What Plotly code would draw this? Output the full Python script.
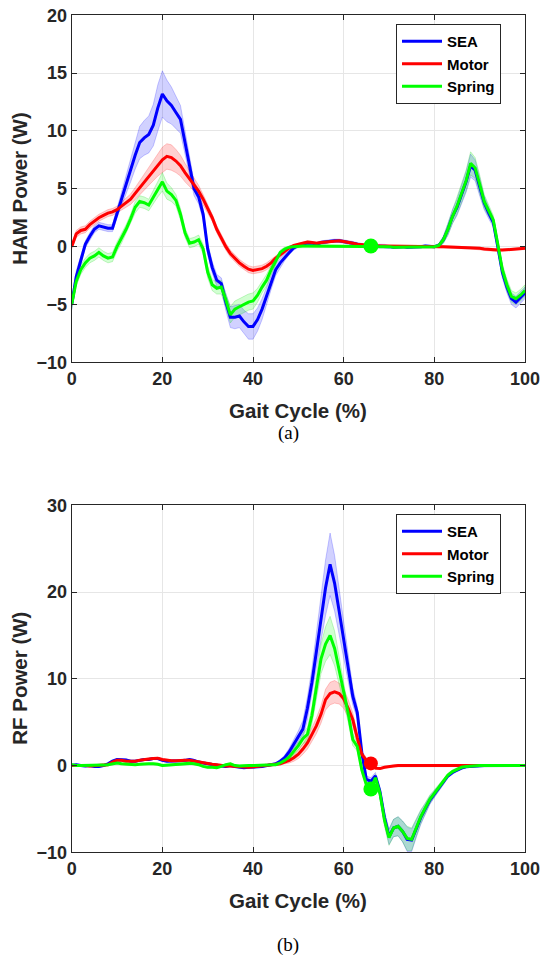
import numpy as np
import plotly.graph_objects as go

# ---------------- data ----------------
gait = list(range(101))
x_ticks = [0, 20, 40, 60, 80, 100]
ham_y_ticks = [-10, -5, 0, 5, 10, 15, 20]
rf_y_ticks = [-10, 0, 10, 20, 30]
series_names = ["SEA", "Motor", "Spring"]

ham_sea = [
    -5.0, -2.6, -1.2, 0.2, 0.9, 1.5, 1.8, 1.7, 1.6, 1.6,
    2.9, 4.2, 5.4, 6.6, 7.9, 9.0, 9.4, 9.7, 10.5, 12.0,
    13.2, 12.6, 12.2, 11.6, 11.0, 9.0, 7.0, 5.0, 4.3, 2.8,
    -0.2, -1.8, -2.9, -3.2, -4.8, -6.1, -6.1, -6.0, -6.5, -6.9,
    -6.9, -6.3, -5.4, -4.3, -3.1, -2.0, -1.4, -0.9, -0.5, -0.1,
    0.1, 0.2, 0.3, 0.3, 0.2, 0.35, 0.4, 0.5, 0.5, 0.5,
    0.45, 0.4, 0.3, 0.2, 0.1, 0.05, 0.05, 0.05, 0.0, 0.05,
    0.0, -0.05, 0.0, 0.0, -0.05, -0.05, 0.0, 0.0, 0.05, 0.0,
    0.0, 0.1, 0.6, 1.5, 2.6, 3.4, 4.5, 5.6, 7.0, 6.6,
    5.2, 3.8, 2.9, 2.1, 0.0, -2.2, -3.5, -4.5, -4.8, -4.4,
    -4.0,
]
ham_sea_sd = [
    0.5, 0.5, 0.4, 0.3, 0.3, 0.3, 0.3, 0.3, 0.3, 0.3,
    0.4, 0.6, 0.8, 1.0, 1.2, 1.4, 1.5, 1.6, 1.8, 2.0,
    2.0, 1.8, 1.6, 1.4, 1.2, 1.0, 0.8, 0.6, 0.6, 0.5,
    0.5, 0.5, 0.5, 0.5, 0.7, 0.9, 1.0, 1.0, 1.0, 1.1,
    1.1, 1.0, 0.9, 0.8, 0.6, 0.5, 0.4, 0.3, 0.2, 0.2,
    0.15, 0.15, 0.15, 0.15, 0.15, 0.15, 0.15, 0.15, 0.15, 0.15,
    0.15, 0.15, 0.15, 0.15, 0.15, 0.15, 0.15, 0.15, 0.15, 0.15,
    0.1, 0.1, 0.1, 0.1, 0.1, 0.1, 0.1, 0.1, 0.1, 0.1,
    0.1, 0.15, 0.3, 0.5, 0.6, 0.7, 0.8, 0.9, 1.0, 0.9,
    0.8, 0.6, 0.5, 0.4, 0.4, 0.5, 0.5, 0.5, 0.5, 0.5,
    0.5,
]
ham_motor = [
    0.0, 1.1, 1.4, 1.5, 1.9, 2.2, 2.5, 2.7, 2.9, 3.0,
    3.2, 3.5, 3.8, 4.1, 4.6, 5.1, 5.6, 6.1, 6.6, 7.1,
    7.5, 7.8, 7.7, 7.4, 7.0, 6.4, 5.9, 5.4, 4.8, 4.1,
    3.3, 2.5, 1.5, 0.7, 0.0, -0.6, -1.0, -1.4, -1.7, -1.95,
    -2.05, -2.0, -1.9, -1.7, -1.4, -1.0, -0.7, -0.4, -0.1, 0.1,
    0.2, 0.3, 0.4, 0.35, 0.3, 0.35, 0.4, 0.45, 0.5, 0.5,
    0.45, 0.4, 0.3, 0.2, 0.15, 0.1, 0.05, 0.05, 0.05, 0.05,
    0.05, 0.05, 0.05, 0.05, 0.05, 0.05, 0.05, 0.05, 0.05, 0.05,
    0.05, 0.0, -0.02, -0.03, -0.05, -0.06, -0.08, -0.09, -0.1, -0.12,
    -0.15, -0.2, -0.25, -0.3, -0.3, -0.3, -0.28, -0.25, -0.2, -0.18,
    -0.15,
]
ham_motor_sd = [
    0.2, 0.3, 0.3, 0.3, 0.3, 0.3, 0.3, 0.3, 0.3, 0.3,
    0.3, 0.35, 0.4, 0.45, 0.5, 0.6, 0.7, 0.8, 0.9, 1.0,
    1.1, 1.1, 1.1, 1.0, 0.9, 0.8, 0.7, 0.6, 0.5, 0.4,
    0.4, 0.3, 0.3, 0.3, 0.3, 0.3, 0.3, 0.3, 0.3, 0.3,
    0.3, 0.3, 0.3, 0.3, 0.3, 0.25, 0.2, 0.2, 0.15, 0.1,
    0.1, 0.1, 0.1, 0.1, 0.1, 0.1, 0.1, 0.1, 0.1, 0.1,
    0.1, 0.1, 0.1, 0.1, 0.1, 0.1, 0.1, 0.1, 0.1, 0.1,
    0.1, 0.1, 0.1, 0.1, 0.1, 0.1, 0.1, 0.1, 0.1, 0.1,
    0.1, 0.1, 0.1, 0.1, 0.1, 0.1, 0.1, 0.1, 0.1, 0.1,
    0.1, 0.1, 0.1, 0.1, 0.1, 0.1, 0.1, 0.1, 0.1, 0.1,
    0.1,
]
ham_spring = [
    -5.0, -3.0, -2.0, -1.4, -1.0, -0.8, -0.5, -0.8, -1.0, -0.9,
    0.0, 0.7, 1.5, 2.4, 3.4, 3.9, 3.8, 3.6, 4.3, 5.0,
    5.6, 4.8, 4.5, 4.0, 2.8, 1.2, 0.3, 0.4, 0.6, -0.2,
    -2.2, -3.3, -3.6, -3.5, -4.6, -5.9, -5.4, -5.2, -5.0, -4.8,
    -4.7, -4.2, -3.5, -2.9, -2.0, -1.2, -0.5, -0.2, -0.05, 0.0,
    0.05, 0.05, 0.05, 0.05, 0.05, 0.05, 0.05, 0.05, 0.05, 0.05,
    0.05, 0.05, 0.05, 0.05, 0.05, 0.05, 0.05, 0.05, 0.0, 0.0,
    0.0, -0.05, -0.05, 0.0, 0.0, -0.05, 0.0, 0.0, 0.0, 0.0,
    0.0, 0.1, 0.6, 1.5, 2.6, 3.5, 4.6, 5.7, 7.2, 6.8,
    5.4, 3.9, 3.1, 2.3, 0.2, -2.0, -3.3, -4.3, -4.5, -4.2,
    -3.8,
]
ham_spring_sd = [
    0.4, 0.4, 0.4, 0.4, 0.4, 0.4, 0.4, 0.4, 0.4, 0.4,
    0.4, 0.4, 0.4, 0.4, 0.5, 0.5, 0.5, 0.5, 0.6, 0.7,
    0.8, 0.7, 0.6, 0.5, 0.5, 0.4, 0.4, 0.4, 0.4, 0.4,
    0.5, 0.5, 0.5, 0.6, 0.6, 0.7, 0.7, 0.7, 0.7, 0.7,
    0.7, 0.6, 0.5, 0.5, 0.4, 0.3, 0.2, 0.15, 0.1, 0.1,
    0.1, 0.1, 0.1, 0.1, 0.1, 0.1, 0.1, 0.1, 0.1, 0.1,
    0.1, 0.1, 0.1, 0.1, 0.1, 0.1, 0.1, 0.1, 0.1, 0.1,
    0.1, 0.1, 0.1, 0.1, 0.1, 0.1, 0.1, 0.1, 0.1, 0.1,
    0.1, 0.15, 0.3, 0.5, 0.6, 0.7, 0.8, 0.9, 1.0, 0.9,
    0.8, 0.6, 0.5, 0.4, 0.4, 0.5, 0.5, 0.5, 0.5, 0.5,
    0.5,
]

rf_sea = [
    0.0, 0.1, 0.0, -0.05, 0.0, -0.1, -0.1, 0.0, 0.2, 0.5,
    0.7, 0.7, 0.65, 0.5, 0.5, 0.6, 0.7, 0.7, 0.8, 0.8,
    0.6, 0.5, 0.5, 0.5, 0.55, 0.6, 0.7, 0.6, 0.4, 0.3,
    0.2, 0.1, 0.0, -0.05, -0.1, 0.0, -0.1, -0.2, -0.25, -0.2,
    -0.2, -0.15, -0.1, 0.0, 0.1, 0.2, 0.5, 0.9, 1.6, 2.5,
    3.3, 4.2, 6.6, 9.6, 13.2, 17.0, 20.5, 23.2, 21.0, 17.8,
    14.6, 11.3, 8.0, 6.1, 1.5, -1.6, -1.8, -1.2, -3.0, -6.0,
    -8.2, -7.2, -7.0, -7.6, -8.5, -8.6, -7.3, -6.0, -5.0, -4.0,
    -3.3, -2.6, -1.9, -1.2, -0.8, -0.5, -0.3, -0.15, -0.1, -0.05,
    0.0, 0.0, 0.0, 0.0, 0.0, 0.0, 0.0, 0.0, 0.0, 0.0,
    0.0,
]
rf_sea_sd = [
    0.1, 0.1, 0.1, 0.1, 0.1, 0.1, 0.1, 0.1, 0.1, 0.1,
    0.1, 0.1, 0.1, 0.1, 0.1, 0.1, 0.1, 0.1, 0.1, 0.1,
    0.1, 0.1, 0.1, 0.1, 0.1, 0.1, 0.1, 0.1, 0.1, 0.1,
    0.1, 0.1, 0.1, 0.1, 0.1, 0.1, 0.1, 0.1, 0.1, 0.1,
    0.1, 0.1, 0.1, 0.1, 0.1, 0.1, 0.2, 0.3, 0.4, 0.5,
    0.7, 1.0, 1.3, 1.6, 2.0, 2.6, 3.2, 3.6, 3.2, 2.6,
    2.0, 1.5, 1.0, 0.7, 0.5, 0.4, 0.4, 0.4, 0.5, 0.7,
    0.9, 1.0, 1.1, 1.2, 1.4, 1.3, 1.0, 0.8, 0.6, 0.5,
    0.4, 0.3, 0.3, 0.2, 0.2, 0.15, 0.1, 0.1, 0.1, 0.1,
    0.1, 0.1, 0.1, 0.1, 0.1, 0.1, 0.1, 0.1, 0.1, 0.1,
    0.1,
]
rf_motor = [
    0.0, 0.0, 0.05, 0.0, -0.05, 0.0, 0.0, 0.05, 0.1, 0.4,
    0.6, 0.6, 0.5, 0.5, 0.5, 0.6, 0.7, 0.75, 0.8, 0.85,
    0.7, 0.6, 0.55, 0.55, 0.6, 0.6, 0.6, 0.5, 0.4, 0.3,
    0.2, 0.15, 0.1, 0.0, -0.05, -0.05, -0.1, -0.15, -0.2, -0.2,
    -0.15, -0.1, -0.05, 0.0, 0.05, 0.1, 0.2, 0.4, 0.6, 0.9,
    1.3, 1.9, 2.6, 3.6, 4.6, 5.9, 7.6, 8.3, 8.5, 8.3,
    7.7, 6.6, 5.3, 3.2, 1.3, 0.6, 0.25, -0.3, -0.35, -0.2,
    -0.1, -0.05, 0.0, 0.0, 0.0, 0.0, 0.0, 0.0, 0.0, 0.0,
    0.0, 0.0, 0.0, 0.0, 0.0, 0.0, 0.0, 0.0, 0.0, 0.0,
    0.0, 0.0, 0.0, 0.0, 0.0, 0.0, 0.0, 0.0, 0.0, 0.0,
    0.0,
]
rf_motor_sd = [
    0.1, 0.1, 0.1, 0.1, 0.1, 0.1, 0.1, 0.1, 0.1, 0.1,
    0.1, 0.1, 0.1, 0.1, 0.1, 0.1, 0.1, 0.1, 0.1, 0.1,
    0.1, 0.1, 0.1, 0.1, 0.1, 0.1, 0.1, 0.1, 0.1, 0.1,
    0.1, 0.1, 0.1, 0.1, 0.1, 0.1, 0.1, 0.1, 0.1, 0.1,
    0.1, 0.1, 0.1, 0.1, 0.1, 0.1, 0.15, 0.2, 0.3, 0.4,
    0.5, 0.6, 0.7, 0.8, 0.9, 1.0, 1.2, 1.3, 1.3, 1.2,
    1.1, 1.0, 0.8, 0.6, 0.4, 0.3, 0.2, 0.15, 0.1, 0.1,
    0.1, 0.1, 0.1, 0.1, 0.1, 0.1, 0.1, 0.1, 0.1, 0.1,
    0.1, 0.1, 0.1, 0.1, 0.1, 0.1, 0.1, 0.1, 0.1, 0.1,
    0.1, 0.1, 0.1, 0.1, 0.1, 0.1, 0.1, 0.1, 0.1, 0.1,
    0.1,
]
rf_spring = [
    0.1, 0.0, 0.0, 0.0, 0.0, 0.0, 0.0, 0.05, 0.1, 0.2,
    0.3, 0.2, 0.15, 0.1, 0.1, 0.15, 0.2, 0.2, 0.2, 0.15,
    0.0, 0.05, 0.1, 0.1, 0.15, 0.2, 0.25, 0.2, 0.1, -0.1,
    -0.2, -0.2, -0.25, -0.1, 0.1, 0.2, 0.0, -0.05, 0.0, 0.0,
    0.0, 0.0, 0.05, 0.05, 0.1, 0.1, 0.3, 0.6, 1.0, 1.6,
    2.3, 3.1, 3.6, 5.8, 9.0, 12.3, 14.0, 15.0, 13.5, 11.0,
    8.5, 6.0, 3.0, 2.2, -0.5, -2.2, -2.7, -1.4, -3.2, -6.3,
    -8.3, -7.2, -7.0, -7.6, -8.4, -8.5, -7.2, -5.9, -4.9, -3.9,
    -3.2, -2.5, -1.8, -1.1, -0.7, -0.4, -0.2, -0.1, -0.05, 0.0,
    0.0, 0.0, 0.0, 0.0, 0.0, 0.0, 0.0, 0.0, 0.0, 0.0,
    0.0,
]
rf_spring_sd = [
    0.1, 0.1, 0.1, 0.1, 0.1, 0.1, 0.1, 0.1, 0.1, 0.1,
    0.1, 0.1, 0.1, 0.1, 0.1, 0.1, 0.1, 0.1, 0.1, 0.1,
    0.1, 0.1, 0.1, 0.1, 0.1, 0.1, 0.1, 0.1, 0.1, 0.1,
    0.1, 0.1, 0.1, 0.1, 0.1, 0.1, 0.1, 0.1, 0.1, 0.1,
    0.1, 0.1, 0.1, 0.1, 0.1, 0.1, 0.15, 0.2, 0.3, 0.4,
    0.5, 0.6, 0.8, 1.0, 1.3, 1.7, 2.0, 2.2, 2.0, 1.6,
    1.3, 1.0, 0.7, 0.5, 0.4, 0.4, 0.4, 0.4, 0.5, 0.7,
    0.9, 1.0, 1.1, 1.2, 1.4, 1.3, 1.0, 0.8, 0.6, 0.5,
    0.4, 0.3, 0.3, 0.2, 0.2, 0.15, 0.1, 0.1, 0.1, 0.1,
    0.1, 0.1, 0.1, 0.1, 0.1, 0.1, 0.1, 0.1, 0.1, 0.1,
    0.1,
]

# toe-off markers
ham_marker_x = [66]
ham_marker_spring_y = [0.05]
rf_marker_x = [66]
rf_marker_motor_y = [0.25]
rf_marker_spring_y = [-2.7]

# ---------------- styling ----------------
# the page body margin is removed (post_script below), so the figure fills
# the whole 543x958 window and pixel positions are window pixels.
W, H = 543, 958
line_colors = {"SEA": "#0000ff", "Motor": "#ff0000", "Spring": "#00ff00"}
fill_colors = {"SEA": "rgba(0,0,255,0.18)", "Motor": "rgba(255,0,0,0.18)", "Spring": "rgba(0,255,0,0.18)"}
edge_colors = {"SEA": "rgba(0,0,255,0.35)", "Motor": "rgba(255,0,0,0.35)", "Spring": "rgba(0,200,0,0.35)"}


def px(p):
    return p / W


def py(p):
    return 1 - p / H


# plot boxes, in window pixels
left_px, right_px = 71.7, 525.0
top1, bot1 = 15.3, 362.3
top2, bot2 = 505.3, 852.3

fig = go.Figure()

panels = [
    ("x", "y", [("SEA", ham_sea, ham_sea_sd), ("Motor", ham_motor, ham_motor_sd), ("Spring", ham_spring, ham_spring_sd)], "legend"),
    ("x2", "y2", [("SEA", rf_sea, rf_sea_sd), ("Motor", rf_motor, rf_motor_sd), ("Spring", rf_spring, rf_spring_sd)], "legend2"),
]

for xa, ya, series, leg in panels:
    for name, mean, sd in series:
        m = np.array(mean)
        s = np.array(sd)
        upper = (m + s).tolist()
        lower = (m - s).tolist()
        fig.add_trace(go.Scatter(
            x=gait + gait[::-1], y=upper + lower[::-1],
            fill="toself", fillcolor=fill_colors[name],
            line=dict(color=edge_colors[name], width=0.6),
            mode="lines", hoverinfo="skip", showlegend=False,
            xaxis=xa, yaxis=ya,
        ))
    for name, mean, sd in series:
        fig.add_trace(go.Scatter(
            x=gait, y=mean, mode="lines", name=name,
            line=dict(color=line_colors[name], width=3),
            xaxis=xa, yaxis=ya, legend=leg,
        ))

fig.add_trace(go.Scatter(x=ham_marker_x, y=ham_marker_spring_y, mode="markers",
                         marker=dict(size=15, color=line_colors["Spring"]), showlegend=False,
                         xaxis="x", yaxis="y"))
fig.add_trace(go.Scatter(x=rf_marker_x, y=rf_marker_motor_y, mode="markers",
                         marker=dict(size=14, color=line_colors["Motor"]), showlegend=False,
                         xaxis="x2", yaxis="y2"))
fig.add_trace(go.Scatter(x=rf_marker_x, y=rf_marker_spring_y, mode="markers",
                         marker=dict(size=15, color=line_colors["Spring"]), showlegend=False,
                         xaxis="x2", yaxis="y2"))

tick_font = dict(family="Liberation Sans, Arial, sans-serif", size=18, color="#262626", weight="bold")
axis_common = dict(
    showline=True, linecolor="#262626", linewidth=1, mirror="ticks",
    ticks="inside", ticklen=5, tickcolor="#262626", tickwidth=1,
    showgrid=True, gridcolor="#e6e6e6", gridwidth=1, zeroline=False,
    tickfont=tick_font, fixedrange=True, automargin=False,
)
xdom = [px(left_px), px(right_px)]

fig.update_layout(
    width=W, height=H,
    margin=dict(l=0, r=0, t=0, b=0, autoexpand=False),
    paper_bgcolor="white", plot_bgcolor="white",
    xaxis=dict(domain=xdom, anchor="y", range=[0, 100], tickvals=x_ticks, **axis_common),
    yaxis=dict(domain=[py(bot1), py(top1)], anchor="x", range=[-10, 20], tickvals=ham_y_ticks, **axis_common),
    xaxis2=dict(domain=xdom, anchor="y2", range=[0, 100], tickvals=x_ticks, **axis_common),
    yaxis2=dict(domain=[py(bot2), py(top2)], anchor="x2", range=[-10, 30], tickvals=rf_y_ticks, **axis_common),
    showlegend=True,
)

legend_common = dict(
    xanchor="left", yanchor="top", bgcolor="white",
    bordercolor="#262626", borderwidth=1,
    font=dict(family="Liberation Sans, Arial, sans-serif", size=15, color="black", weight="bold"),
    tracegroupgap=0, itemwidth=40,
)
fig.update_layout(
    legend=dict(x=px(396), y=py(24), **legend_common),
    legend2=dict(x=px(396), y=py(514), **legend_common),
)

title_font = dict(family="Liberation Sans, Arial, sans-serif", size=20.5, color="#262626", weight="bold")
caption_font = dict(family="Liberation Serif, Times New Roman, serif", size=19, color="black")
xc = px((left_px + right_px) / 2)
annots = [
    dict(text="HAM Power (W)", x=px(20), y=py((top1 + bot1) / 2), textangle=-90, font=title_font),
    dict(text="RF Power (W)", x=px(20), y=py((top2 + bot2) / 2), textangle=-90, font=title_font),
    dict(text="Gait Cycle (%)", x=xc, y=py(410), font=title_font),
    dict(text="Gait Cycle (%)", x=xc, y=py(900), font=title_font),
    dict(text="(a)", x=px(288), y=py(433), font=caption_font),
    dict(text="(b)", x=px(288), y=py(945), font=caption_font),
]
for a in annots:
    fig.add_annotation(xref="paper", yref="paper", showarrow=False,
                       xanchor="center", yanchor="middle", **a)

fig.write_html(
    "out.html",
    config={"displayModeBar": False, "staticPlot": True},
    post_script="document.body.style.margin='0';document.body.style.overflow='hidden';",
)
